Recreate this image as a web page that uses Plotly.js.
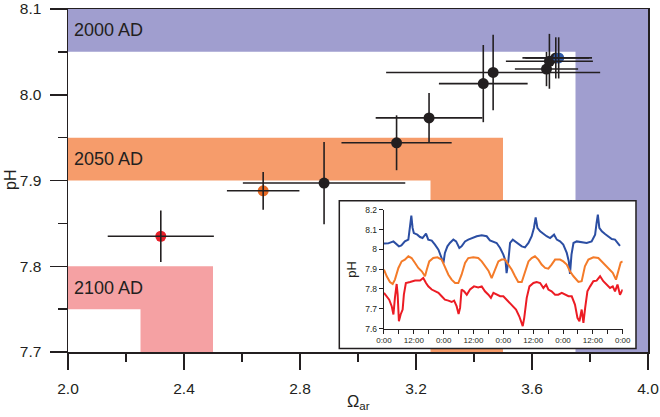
<!DOCTYPE html>
<html><head><meta charset="utf-8">
<script src="https://cdn.plot.ly/plotly-3.0.1.min.js"></script>
<style>html,body{margin:0;padding:0;background:#fff}#chart{width:660px;height:417px}</style>
</head><body><div id="chart"></div>
<script>
// ---- main scatter data (Omega_ar vs pH) ----
const omega    = [2.320, 2.673, 2.883, 3.133, 3.245, 3.432, 3.466, 3.650, 3.660, 3.682, 3.692];
const pH       = [7.835, 7.888, 7.897, 7.944, 7.973, 8.013, 8.026, 8.030, 8.039, 8.043, 8.043];
const omegaErr = [0.183, 0.125, 0.280, 0.190, 0.184, 0.153, 0.369, 0.109, 0.150, 0.115, 0.115];
const pHErr    = [0.030, 0.022, 0.048, 0.032, 0.029, 0.045, 0.044, 0.020, 0.032, 0.024, 0.024];
const pointGroup = ['2100', '2050', 'obs', 'obs', 'obs', 'obs', 'obs', 'obs', 'obs', 'obs', '2000'];

// ---- scenario zones ----
const zoneLabels     = ['2000 AD', '2050 AD', '2100 AD'];
const zonePHLow      = [8.05, 7.90, 7.75];
const zonePHHigh     = [8.10, 7.95, 7.80];
const zoneOmegaLow   = [3.75, 3.25, 2.25];
const zoneOmegaHigh  = [4.00, 3.50, 2.50];
const zoneKey        = ['2000', '2050', '2100'];

// ---- inset time series (hours from start, pH) ----
const blueHours = [0,1.7,3.8,6,7,8.4,9.8,10.5,11,11.5,12,13.4,14.5,15.5,16.9,17.8,19.2,20.5,21.9,22.9,23.9,24.5,25.5,26.5,27.9,29,30.3,31.2,32.6,33.9,35.3,37.3,39.3,41.3,42.6,44,45.3,46.7,48,48.9,49.3,50,50.7,51.8,52.8,54,55.4,56.7,58.1,59.4,60.3,61,61.7,62.8,64.1,65.4,66.8,68.4,69.5,70.8,72.1,73.5,74.3,74.8,75.4,76.2,77.5,79.5,81.5,83.5,84.9,85.5,86,86.6,87.6,88.9,90.2,91.6,92.9,94.3,94.9];
const bluePH = [8.029,8.030,8.040,8.015,8.020,8.040,8.049,8.108,8.170,8.108,8.082,8.074,8.062,8.057,8.079,8.049,8.044,8.024,7.998,7.965,7.931,7.982,8.015,8.032,8.049,8.040,8.007,8.015,8.040,8.049,8.057,8.066,8.071,8.066,8.045,8.040,8.032,8.007,7.973,7.940,7.880,7.940,8.032,8.049,8.040,8.032,8.015,8.010,8.032,8.066,8.108,8.161,8.108,8.091,8.077,8.066,8.057,8.074,8.049,8.040,8.024,7.982,7.940,7.876,7.973,8.032,8.040,8.035,8.032,8.040,8.074,8.133,8.175,8.108,8.091,8.077,8.066,8.052,8.049,8.024,8.018];
const orangeHours = [0,1.1,2.4,3.5,4.4,5.8,7.1,8.4,9.8,11.1,12.5,13.8,15.2,16.5,17.2,18.2,19.8,21.5,23.2,24.5,25.9,27.2,28.6,29.9,31.2,32.6,33.9,35.9,37.9,39.3,40.6,42,43.3,44.6,46,47.3,48.7,50,51.4,52.7,54,55.4,56.7,58.1,59.4,60.7,62.1,63.4,64.8,66.1,67.4,68.8,70.8,72.1,73.5,74.8,76.2,78.2,79.5,80.8,82.2,84.2,86.2,87.6,88.9,90.2,92,93.3,94.3,95.2,96];
const orangePH = [7.897,7.864,7.835,7.825,7.847,7.906,7.939,7.948,7.965,7.956,7.931,7.906,7.889,7.864,7.897,7.939,7.956,7.960,7.948,7.914,7.872,7.847,7.830,7.830,7.872,7.931,7.956,7.960,7.956,7.939,7.914,7.892,7.855,7.897,7.939,7.948,7.948,7.923,7.897,7.864,7.835,7.835,7.881,7.939,7.956,7.965,7.948,7.923,7.906,7.902,7.923,7.948,7.948,7.939,7.923,7.889,7.864,7.835,7.839,7.914,7.948,7.960,7.956,7.939,7.923,7.906,7.881,7.847,7.897,7.934,7.939];
const redHours = [0,1.1,2.1,3.1,3.8,4.4,5.1,5.5,6,6.7,7.5,8,8.8,10.5,12.5,14.5,15.8,16.9,17.8,19.2,20.5,21.9,23.2,24.5,25.9,27.2,28.2,29.2,30,30.6,31.2,32.2,33.3,34.6,36.2,37.9,39.3,40.6,42,43,44,45.3,46.7,48,49.3,51.4,53.1,54.4,55.4,55.8,56.4,57.4,58.5,60.1,61.4,62.8,64.1,65.2,66.1,67.4,68.8,70.1,71.5,72.8,74.2,75.5,76.8,77.8,78.6,79.5,80.2,80.9,81.8,82.9,84.2,85.5,86.9,88.2,89.6,90.9,92,92.9,93.9,94.9,96];
const redPH = [7.780,7.763,7.746,7.713,7.671,7.755,7.825,7.771,7.637,7.671,7.696,7.771,7.830,7.835,7.842,7.842,7.855,7.830,7.813,7.797,7.788,7.780,7.763,7.746,7.741,7.734,7.741,7.713,7.674,7.704,7.797,7.788,7.771,7.797,7.813,7.808,7.813,7.788,7.771,7.755,7.780,7.771,7.763,7.763,7.746,7.721,7.696,7.662,7.629,7.612,7.654,7.755,7.813,7.830,7.835,7.830,7.805,7.822,7.797,7.788,7.771,7.771,7.780,7.771,7.763,7.763,7.721,7.654,7.637,7.696,7.629,7.704,7.788,7.813,7.839,7.842,7.864,7.839,7.822,7.805,7.813,7.788,7.822,7.771,7.797];
const insetLabelHours = [0,12,24,36,48,60,72,84,96];
const insetTickLabels = ['0:00','12:00','0:00','12:00','0:00','12:00','0:00','12:00','0:00'];

// ---- styling ----
const ink = '#231f20';
const groupColor = {'2100': '#e8202a', '2050': '#e86a24', 'obs': ink, '2000': '#2f5aa8'};
const zoneColor  = {'2000': '#a09ecf', '2050': '#f69c6b', '2100': '#f5a1a3'};

const shapes = zoneLabels.map((lab, i) => ({
  type: 'path', xref: 'x', yref: 'y', layer: 'below',
  path: `M 2 ${zonePHHigh[i]} L ${zoneOmegaHigh[i]} ${zonePHHigh[i]} L ${zoneOmegaHigh[i]} 7.7 L ${zoneOmegaLow[i]} 7.7 L ${zoneOmegaLow[i]} ${zonePHLow[i]} L 2 ${zonePHLow[i]} Z`,
  fillcolor: zoneColor[zoneKey[i]], line: {width: 0}
}));
// inset frame (white panel behind the inset subplot)
shapes.push({type: 'rect', xref: 'x', yref: 'y', layer: 'below',
  x0: 2.9355, x1: 3.9586, y0: 7.7042, y1: 7.8765,
  fillcolor: '#ffffff', line: {color: ink, width: 1.5}});

const annotations = zoneLabels.map((lab, i) => ({
  text: lab, xref: 'paper', yref: 'y', x: 0.007, y: (zonePHLow[i] + zonePHHigh[i]) / 2,
  xanchor: 'left', yanchor: 'middle', showarrow: false,
  font: {size: 18, color: ink}
}));
annotations.push({text: 'Ω<sub>ar</sub>', xref: 'paper', yref: 'paper', x: 0.5, y: -0.147,
  xanchor: 'center', yanchor: 'middle', showarrow: false, font: {size: 16.5, color: ink}});
annotations.push({text: 'pH', xref: 'paper', yref: 'paper', x: -0.098, y: 0.502, textangle: -90,
  xanchor: 'center', yanchor: 'middle', showarrow: false, font: {size: 16, color: ink}});
annotations.push({text: 'pH', xref: 'paper', yref: 'paper', x: 0.4897, y: 0.240, textangle: -90,
  xanchor: 'center', yanchor: 'middle', showarrow: false, font: {size: 13, color: ink}});

const traces = [
  {type: 'scatter', mode: 'markers', x: omega, y: pH, hoverinfo: 'skip',
   marker: {size: 11, color: pointGroup.map(g => groupColor[g]), line: {width: 0}}},
  {type: 'scatter', mode: 'markers', x: omega, y: pH, hoverinfo: 'skip',
   marker: {size: 2, opacity: 0},
   error_x: {type: 'data', array: omegaErr, color: ink, thickness: 1.6, width: 0},
   error_y: {type: 'data', array: pHErr, color: ink, thickness: 1.6, width: 0}},
  {type: 'scatter', mode: 'lines', x: blueHours, y: bluePH, xaxis: 'x2', yaxis: 'y2',
   line: {color: '#2b4ea3', width: 2}},
  {type: 'scatter', mode: 'lines', x: orangeHours, y: orangePH, xaxis: 'x2', yaxis: 'y2',
   line: {color: '#f47b29', width: 2}},
  {type: 'scatter', mode: 'lines', x: redHours, y: redPH, xaxis: 'x2', yaxis: 'y2',
   line: {color: '#ec1c24', width: 2}}
];

const axisCommon = {showgrid: false, zeroline: false, showline: true, linecolor: ink, linewidth: 1.5,
  ticks: 'outside', tickcolor: ink, tickwidth: 1.5, tickfont: {size: 15.5, color: ink}};

const layout = {
  width: 660, height: 417,
  margin: {l: 68, r: 12, t: 9, b: 65},
  paper_bgcolor: '#ffffff', plot_bgcolor: '#ffffff',
  showlegend: false,
  font: {family: 'Liberation Sans, Arial, sans-serif', color: ink},
  xaxis: Object.assign({}, axisCommon, {range: [2, 4], tick0: 2, dtick: 0.4, tickformat: '.1f',
    ticklen: 16, mirror: true, ticklabelstandoff: 6,
    minor: {tick0: 2, dtick: 0.2, ticks: 'outside', ticklen: 8, tickwidth: 1.5, tickcolor: ink, showgrid: false}}),
  yaxis: Object.assign({}, axisCommon, {range: [7.7, 8.1], tick0: 7.7, dtick: 0.1, tickformat: '.1f',
    ticklen: 17, mirror: true, ticklabelstandoff: 5,
    minor: {tick0: 7.7, dtick: 0.05, ticks: 'outside', ticklen: 9, tickwidth: 1.5, tickcolor: ink, showgrid: false}}),
  xaxis2: {domain: [0.5448, 0.9564], anchor: 'y2', range: [0, 96], tickmode: 'array',
    tickvals: insetLabelHours, ticktext: insetTickLabels, ticks: 'outside', ticklen: 4, tickwidth: 1,
    tickcolor: ink, showline: true, linecolor: ink, linewidth: 1.2, showgrid: false, zeroline: false,
    tickfont: {size: 8, color: ink},
    minor: {tickmode: 'linear', tick0: 0, dtick: 6, ticks: 'outside', ticklen: 4, tickwidth: 1, tickcolor: ink, showgrid: false}},
  yaxis2: {domain: [0.0684, 0.4148], anchor: 'x2', range: [7.6, 8.2], tick0: 7.6, dtick: 0.1,
    ticks: 'outside', ticklen: 4, tickwidth: 1, tickcolor: ink, showline: true, linecolor: ink,
    linewidth: 1.2, showgrid: false, zeroline: false, tickfont: {size: 8.5, color: ink}},
  shapes: shapes,
  annotations: annotations
};

Plotly.newPlot('chart', traces, layout, {staticPlot: true, displayModeBar: false});
</script>
</body></html>
